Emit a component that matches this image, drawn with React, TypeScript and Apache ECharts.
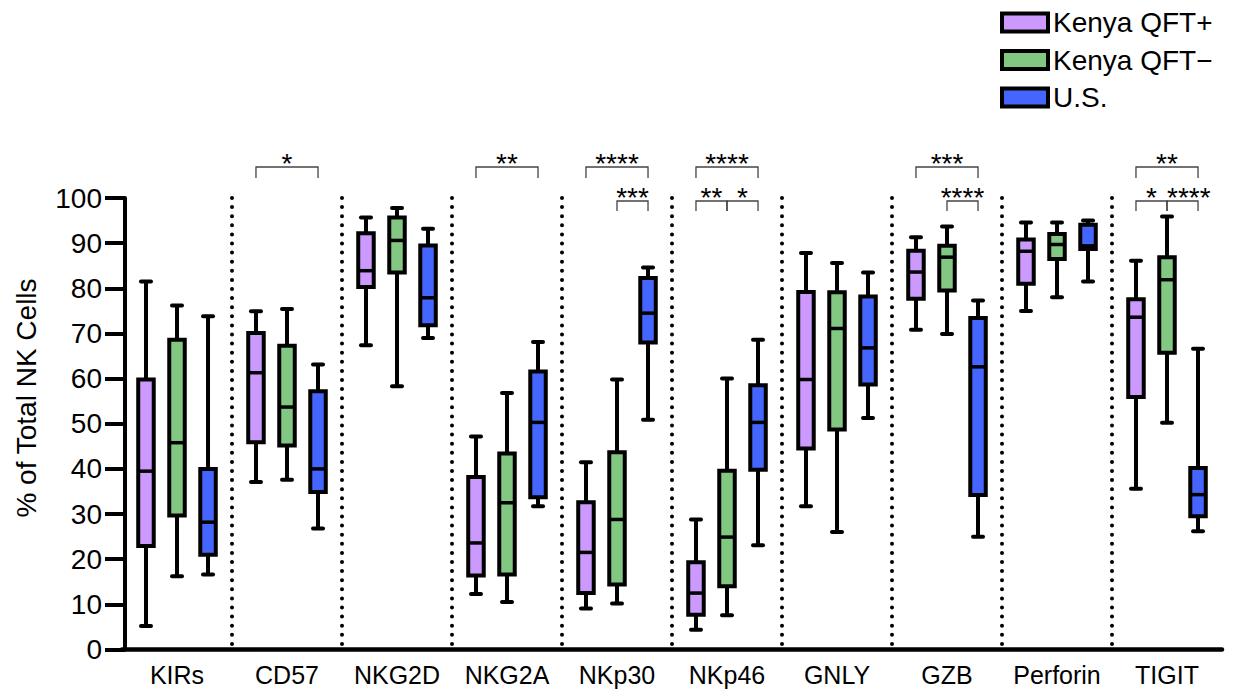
import React, { useEffect, useRef } from "react";
import * as echarts from "echarts";

const categories = ["KIRs", "CD57", "NKG2D", "NKG2A", "NKp30", "NKp46", "GNLY", "GZB", "Perforin", "TIGIT"];
const groupNames = ["Kenya QFT+", "Kenya QFT\u2212", "U.S."];
const groupColors = ["#cc99ff", "#82c882", "#4466ff"];

// each row: [min, q1, median, q3, max]
const kenyaPos = [
  [5.2, 22.9, 39.5, 59.8, 81.5],
  [37.1, 45.9, 61.3, 70.1, 74.9],
  [67.4, 80.3, 83.9, 92.2, 95.7],
  [12.3, 16.4, 23.6, 38.2, 47.2],
  [9.1, 12.5, 21.5, 32.6, 41.5],
  [4.4, 7.7, 12.5, 19.3, 28.8],
  [31.7, 44.5, 59.8, 79.2, 87.8],
  [70.8, 77.7, 83.6, 88.3, 91.3],
  [75.0, 81.0, 88.2, 90.8, 94.6],
  [35.6, 55.9, 73.6, 77.6, 86.1],
];
const kenyaNeg = [
  [16.2, 29.7, 45.8, 68.6, 76.2],
  [37.6, 45.2, 53.7, 67.3, 75.4],
  [58.3, 83.5, 90.6, 95.7, 97.8],
  [10.5, 16.6, 32.5, 43.4, 56.8],
  [10.2, 14.4, 28.8, 43.7, 59.8],
  [7.6, 14.0, 24.9, 39.6, 60.0],
  [26.0, 48.7, 71.1, 79.1, 85.6],
  [69.9, 79.5, 86.9, 89.4, 93.7],
  [78.0, 86.5, 89.7, 92.0, 94.6],
  [50.2, 65.7, 81.9, 86.9, 95.9],
];
const usGroup = [
  [16.6, 21.0, 28.2, 40.0, 73.8],
  [26.8, 34.9, 40.0, 57.2, 63.1],
  [69.0, 71.8, 77.9, 89.5, 93.2],
  [31.7, 33.7, 50.3, 61.6, 68.1],
  [50.9, 68.0, 74.5, 82.3, 84.6],
  [23.1, 39.8, 50.3, 58.5, 68.6],
  [51.3, 58.7, 66.8, 78.2, 83.5],
  [25.0, 34.2, 62.6, 73.4, 77.3],
  [81.5, 88.7, 89.4, 94.1, 95.0],
  [26.2, 29.5, 34.3, 40.2, 66.6],
];

// significance brackets: [categoryIndex, fromGroup, toGroup, level]
const sigBrackets = [
  [1, 0, 2, 0],
  [3, 0, 2, 0],
  [4, 0, 2, 0],
  [4, 1, 2, 1],
  [5, 0, 2, 0],
  [5, 0, 1, 1],
  [5, 1, 2, 1],
  [7, 0, 2, 0],
  [7, 1, 2, 1],
  [9, 0, 2, 0],
  [9, 0, 1, 1],
  [9, 1, 2, 1],
];
const sigLabels = ["*", "**", "****", "***", "****", "**", "*", "***", "****", "**", "*", "****"];

const separatorIdx = [1, 2, 3, 4, 5, 6, 7, 8, 9];

const FONT = "'Liberation Sans', Arial, Helvetica, sans-serif";
const OFFSET_FRAC = 0.282;

function boxRenderer(s: number) {
  return (params: any, api: any) => {
    const cat = api.value(0);
    const bw = api.size([1, 0])[0];
    const cx = api.coord([cat, 0])[0] + (s - 1) * bw * OFFSET_FRAC;
    const py = (k: number) => api.coord([cat, api.value(k)])[1];
    const yMin = py(1), yQ1 = py(2), yMed = py(3), yQ3 = py(4), yMax = py(5);
    const boxW = 15.5;
    const capHalf = 5;
    const color = api.visual("color");
    const ls = { stroke: "#000", lineWidth: 4 };
    return {
      type: "group",
      children: [
        { type: "line", shape: { x1: cx, y1: yMax, x2: cx, y2: yQ3 }, style: ls },
        { type: "line", shape: { x1: cx, y1: yQ1, x2: cx, y2: yMin }, style: ls },
        { type: "line", shape: { x1: cx - capHalf, y1: yMax, x2: cx + capHalf, y2: yMax }, style: { ...ls, lineCap: "round" } },
        { type: "line", shape: { x1: cx - capHalf, y1: yMin, x2: cx + capHalf, y2: yMin }, style: { ...ls, lineCap: "round" } },
        {
          type: "rect",
          shape: { x: cx - boxW / 2, y: yQ3, width: boxW, height: yQ1 - yQ3 },
          style: { fill: color, stroke: "#000", lineWidth: 4 },
        },
        { type: "line", shape: { x1: cx - boxW / 2, y1: yMed, x2: cx + boxW / 2, y2: yMed }, style: { stroke: "#000", lineWidth: 3.5 } },
      ],
    };
  };
}

export default function App() {
  const ref = useRef<HTMLDivElement>(null);
  useEffect(() => {
    if (!ref.current) return;
    const chart = echarts.init(ref.current, null, { renderer: "svg" });
    const groups = [kenyaPos, kenyaNeg, usGroup];
    const boxSeries = groups.map((g, s) => ({
      type: "custom",
      name: groupNames[s],
      itemStyle: { color: groupColors[s] },
      renderItem: boxRenderer(s),
      encode: { x: 0, y: [1, 2, 3, 4, 5] },
      data: g.map((row, i) => [i, ...row]),
      clip: false,
      z: 3,
    }));

    const separatorSeries = {
      type: "custom",
      name: "sep",
      silent: true,
      renderItem: (params: any, api: any) => {
        const idx = api.value(0);
        const bw = api.size([1, 0])[0];
        const c0 = api.coord([idx, 0]);
        const c1 = api.coord([idx, 100]);
        const x = c0[0] - bw / 2;
        return {
          type: "line",
          shape: { x1: x, y1: c1[1], x2: x, y2: c0[1] - 2 },
          style: { stroke: "#000", lineWidth: 4, lineDash: [0, 9.1], lineCap: "round" },
        };
      },
      encode: { x: 0, y: 1 },
      data: separatorIdx.map((i) => [i, 0]),
      clip: false,
      z: 2,
    };

    const bracketSeries = {
      type: "custom",
      name: "sig",
      silent: true,
      renderItem: (params: any, api: any) => {
        const cat = api.value(0);
        const from = api.value(1);
        const to = api.value(2);
        const level = api.value(3);
        const bw = api.size([1, 0])[0];
        const c = api.coord([cat, 100]);
        const x1 = c[0] + (from - 1) * bw * OFFSET_FRAC;
        const x2 = c[0] + (to - 1) * bw * OFFSET_FRAC;
        const yb = level === 0 ? c[1] - 31 : c[1] + 3;
        const leg = level === 0 ? 11 : 10;
        const st = { stroke: "#444", lineWidth: 1.3, fill: "none" };
        const label = sigLabels[params.dataIndex];
        const hasLeftNeighbour = sigBrackets.some(
          (b) => b[0] === cat && b[3] === level && b[2] === from
        );
        const shiftLeftAlign = hasLeftNeighbour && label.length > 2;
        return {
          type: "group",
          children: [
            {
              type: "polyline",
              shape: { points: [[x1, yb + leg], [x1, yb], [x2, yb], [x2, yb + leg]] },
              style: st,
            },
            {
              type: "text",
              x: shiftLeftAlign ? x1 : (x1 + x2) / 2,
              y: yb + 10,
              style: {
                text: label,
                fontSize: 28,
                fontFamily: FONT,
                fill: "#000",
                align: shiftLeftAlign ? "left" : "center",
                verticalAlign: "bottom",
              },
            },
          ],
        };
      },
      encode: { x: 0, y: 3 },
      data: sigBrackets,
      clip: false,
      z: 4,
    };

    chart.setOption({
      animation: false,
      grid: { left: 122, width: 1100, top: 198, bottom: 42.5 },
      legend: {
        data: groupNames,
        orient: "vertical",
        left: 995,
        top: 3,
        icon: "rect",
        itemWidth: 46,
        itemHeight: 18,
        itemGap: 8.5,
        itemStyle: { borderColor: "#000", borderWidth: 4 },
        textStyle: { fontSize: 28, color: "#000", fontFamily: FONT, lineHeight: 29 },
        selectedMode: false,
      },
      xAxis: {
        type: "category",
        data: categories,
        boundaryGap: true,
        axisLine: { lineStyle: { color: "#000", width: 4.5 } },
        axisTick: { show: false },
        axisLabel: { fontSize: 25, color: "#000", fontFamily: FONT, margin: 13, interval: 0 },
        splitLine: { show: false },
      },
      yAxis: {
        type: "value",
        min: 0,
        max: 100,
        interval: 10,
        offset: -3,
        axisLine: { show: true, lineStyle: { color: "#000", width: 4 } },
        axisTick: { show: true, length: 20, lineStyle: { color: "#000", width: 4 } },
        axisLabel: { fontSize: 28, color: "#000", fontFamily: FONT, margin: 23 },
        splitLine: { show: false },
      },
      graphic: [
        {
          type: "text",
          x: 26,
          y: 398,
          rotation: Math.PI / 2,
          style: {
            text: "% of Total NK Cells",
            fontSize: 28,
            fontFamily: FONT,
            fill: "#000",
            align: "center",
            verticalAlign: "middle",
          },
        },
      ],
      series: [separatorSeries, ...boxSeries, bracketSeries],
    });
    return () => chart.dispose();
  }, []);
  return <div ref={ref} style={{ position: "absolute", left: 0, top: 0, width: 1233, height: 692 }} />;
}
